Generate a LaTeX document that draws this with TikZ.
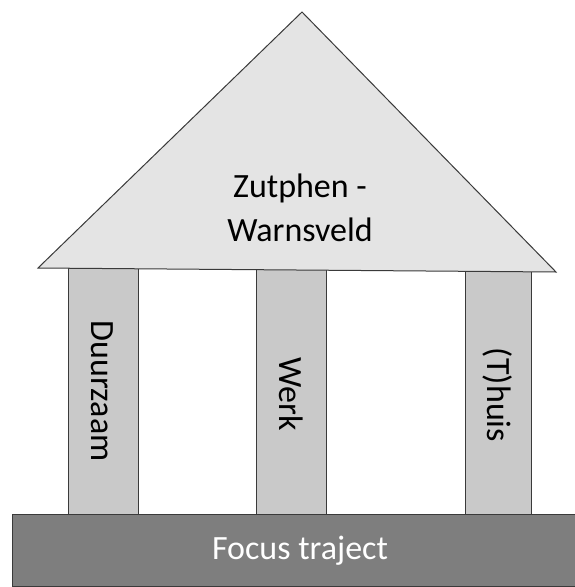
\documentclass[tikz,border=0pt]{standalone}
\usepackage{fontspec}
\setmainfont{Carlito}
\definecolor{roofgray}{HTML}{E4E4E4}
\definecolor{pillargray}{HTML}{C9C9C9}
\definecolor{basegray}{HTML}{7E7E7E}
\definecolor{edgegray}{HTML}{3A3A3A}
\tikzset{
  roof/.style={fill=roofgray,draw=edgegray,line width=1pt,line join=miter},
  pillar/.style={fill=pillargray,draw=edgegray,line width=1pt},
  basebox/.style={fill=basegray,draw=edgegray,line width=1pt},
  lbl/.style={font=\fontsize{34}{44}\selectfont,inner sep=0pt,align=center},
}
\begin{document}
\begin{tikzpicture}[x=1pt,y=-1pt]
\useasboundingbox[fill=white] (0,0) rectangle (575,587);
% pillars
\draw[pillar] (68,268) rectangle (138,515);
\draw[pillar] (256,269) rectangle (326,515);
\draw[pillar] (465,270) rectangle (531,515);
% roof
\draw[roof] (38,268) -- (302,12) -- (556,272) -- cycle;
% base
\draw[basebox] (12,514) rectangle (576,586);
% labels
\node[lbl] (roofText) at (300,208) {Zutphen -\\Warnsveld};
\node[lbl,rotate=-90] (duur) at (102,391) {Duurzaam};
\node[lbl,rotate=-90] (werk) at (291,394) {Werk};
\node[lbl,rotate=-90] (thuis) at (498,395) {(T)huis};
\node[lbl,text=white] (focus) at (300,551) {Focus traject};
\end{tikzpicture}
\end{document}
